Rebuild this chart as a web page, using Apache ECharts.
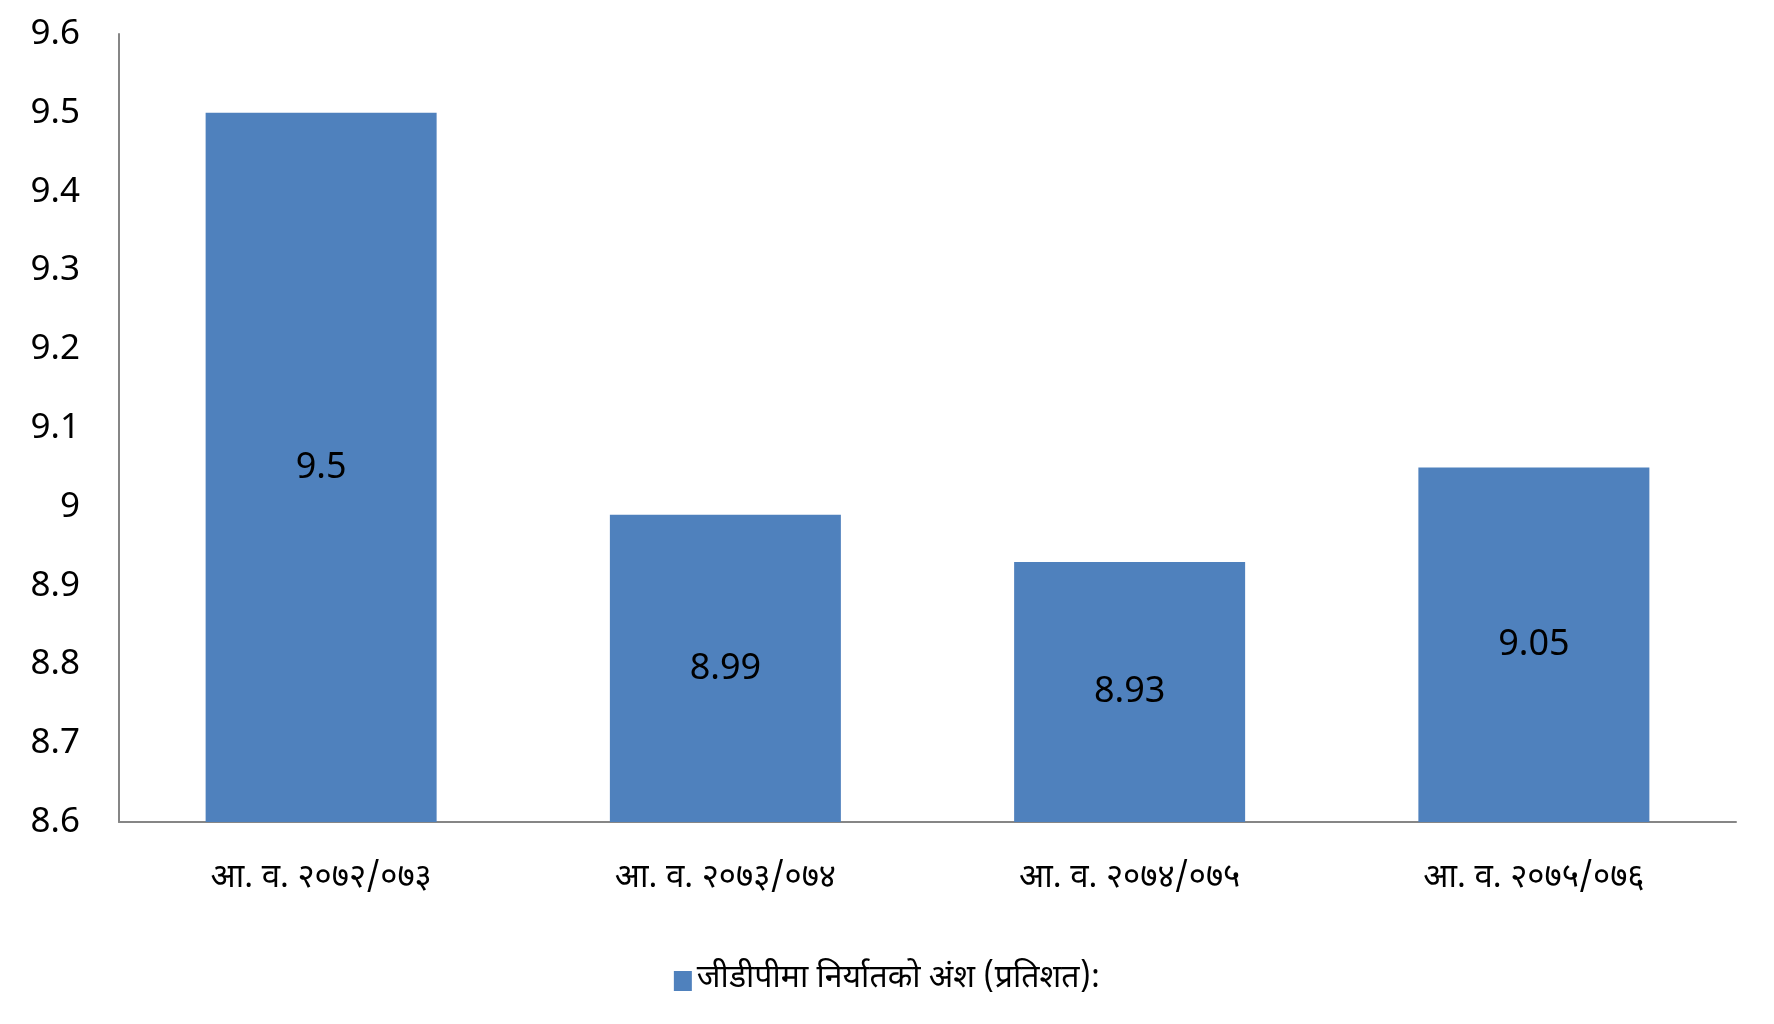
<!DOCTYPE html>
<html>
<head>
<meta charset="utf-8">
<script src="https://cdn.jsdelivr.net/npm/echarts@6/dist/echarts.min.js"></script>
<style>
html,body{margin:0;padding:0;background:#fff;}
#chart{width:1774px;height:1024px;}
</style>
</head>
<body>
<div id="chart"></div>
<script>
var categories = ['आ. व. २०७२/०७३', 'आ. व. २०७३/०७४', 'आ. व. २०७४/०७५', 'आ. व. २०७५/०७६'];
var values = [9.5, 8.99, 8.93, 9.05];
var seriesName = 'जीडीपीमा निर्यातको अंश (प्रतिशत):';
var yMin = 8.6, yMax = 9.6, yStep = 0.1;

var chart = echarts.init(document.getElementById('chart'));
chart.setOption({
  animation: false,
  backgroundColor: '#ffffff',
  textStyle: { fontFamily: '"Noto Sans", "Noto Sans Devanagari", sans-serif' },
  legend: {
    data: [seriesName],
    bottom: 22,
    left: 'center',
    itemWidth: 18,
    itemHeight: 20,
    itemGap: 6,
    icon: 'rect',
    textStyle: { fontSize: 32, color: '#000', fontFamily: '"Noto Sans Devanagari", "Noto Sans", sans-serif' }
  },
  grid: { left: 119, right: 38, top: 34, bottom: 202, containLabel: false },
  xAxis: {
    type: 'category',
    data: categories,
    axisLine: { lineStyle: { color: '#868686', width: 2 } },
    axisTick: { show: true, length: 0 },
    axisLabel: { fontSize: 33, color: '#000', margin: 42, fontFamily: '"Noto Sans Devanagari", "Noto Sans", sans-serif' }
  },
  yAxis: {
    type: 'value',
    min: yMin, max: yMax, interval: yStep,
    axisLine: { show: true, lineStyle: { color: '#868686', width: 2 } },
    axisTick: { show: false },
    splitLine: { show: false },
    axisLabel: {
      fontSize: 35, color: '#000', margin: 39,
      formatter: function (v) { return String(Math.round(v * 10) / 10); }
    }
  },
  series: [{
    name: seriesName,
    type: 'bar',
    data: values,
    barWidth: 231,
    itemStyle: { color: '#4F81BD' },
    label: {
      show: true, position: 'inside', color: '#000', fontSize: 36,
      formatter: function (p) { return String(p.value); }
    }
  }]
});
</script>
</body>
</html>
